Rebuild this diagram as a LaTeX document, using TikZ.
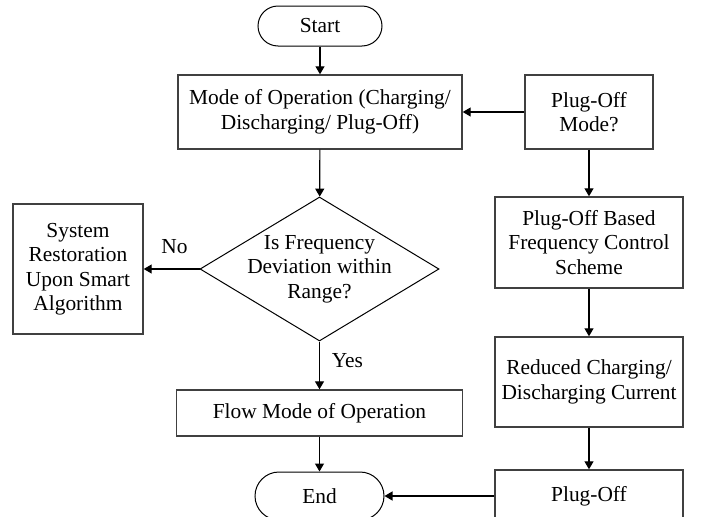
\documentclass[tikz,border=0pt]{standalone}
\usepackage{fontspec}
\setmainfont{Liberation Serif}
\usetikzlibrary{arrows.meta,shapes.geometric}

\begin{document}
\begin{tikzpicture}[x=0.5pt, y=0.5pt,
                font=\fontsize{10.7}{12.25}\selectfont,
                box/.style={draw=black!75, line width=0.7pt, align=center, inner sep=2pt},
                terminal/.style={draw, line width=0.5pt, rounded corners=10pt, minimum width=62pt, minimum height=20pt},
                decision/.style={draw, line width=0.5pt, diamond, minimum width=119.5pt, minimum height=72pt, inner sep=0pt},
                arr/.style={-{Triangle[length=4pt,width=4.5pt]}, line width=0.6pt}]
                \clip (0,0) rectangle (702,516);

                \node[terminal] (start) at (320,490) {Start};
                \node[box, minimum width=142pt, minimum height=37pt] (mode) at (320,404) {Mode of Operation (Charging/\\Discharging/ Plug-Off)};
                \node[box, minimum width=64pt, minimum height=37pt] (plugmode) at (589,404) {Plug-Off\\Mode?};

                \node[decision] (freq) at (319.5,247) {};
                \node[align=center] (freqtxt) at (freq) {Is Frequency\\Deviation within\\Range?};
                \node[box, minimum width=65pt, minimum height=65pt] (sysres) at (78,247) {System\\Restoration\\Upon Smart\\Algorithm};
                \node[box, minimum width=143pt, minimum height=23pt] (flow) at (319.5,103) {Flow Mode of Operation};
                \node[terminal, minimum width=64.5pt, minimum height=24pt, rounded corners=12pt] (end) at (319.5,20) {End};

                \node[box, minimum width=94pt, minimum height=45.5pt] (plugbased) at (589,273.5) {Plug-Off Based\\Frequency Control\\Scheme};
                \node[box, minimum width=94pt, minimum height=45pt] (reduced) at (589,134) {Reduced Charging/\\Discharging Current};
                \node[box, minimum width=94pt, minimum height=26pt] (plugoff) at (589,20) {Plug-Off};

                \draw[arr] (start) -- (mode);
                \draw[arr] (mode) -- (freq);
                \draw[arr] (plugmode) -- (mode);
                \draw[arr] (plugmode) -- (plugbased);
                \draw[arr] (plugbased) -- (reduced);
                \draw[arr] (reduced) -- (plugoff);
                \draw[arr] (plugoff) -- (end);
                \draw[arr] (freq.west) -- node[above=3.8pt, pos=0.45] (nolbl) {No} (sysres.east);
                \draw[arr] (freq.south) -- node[right=2.5pt, pos=0.4] (yeslbl) {Yes} (flow.north);
                \draw[arr] (flow) -- (end);
            \end{tikzpicture}
\end{document}
